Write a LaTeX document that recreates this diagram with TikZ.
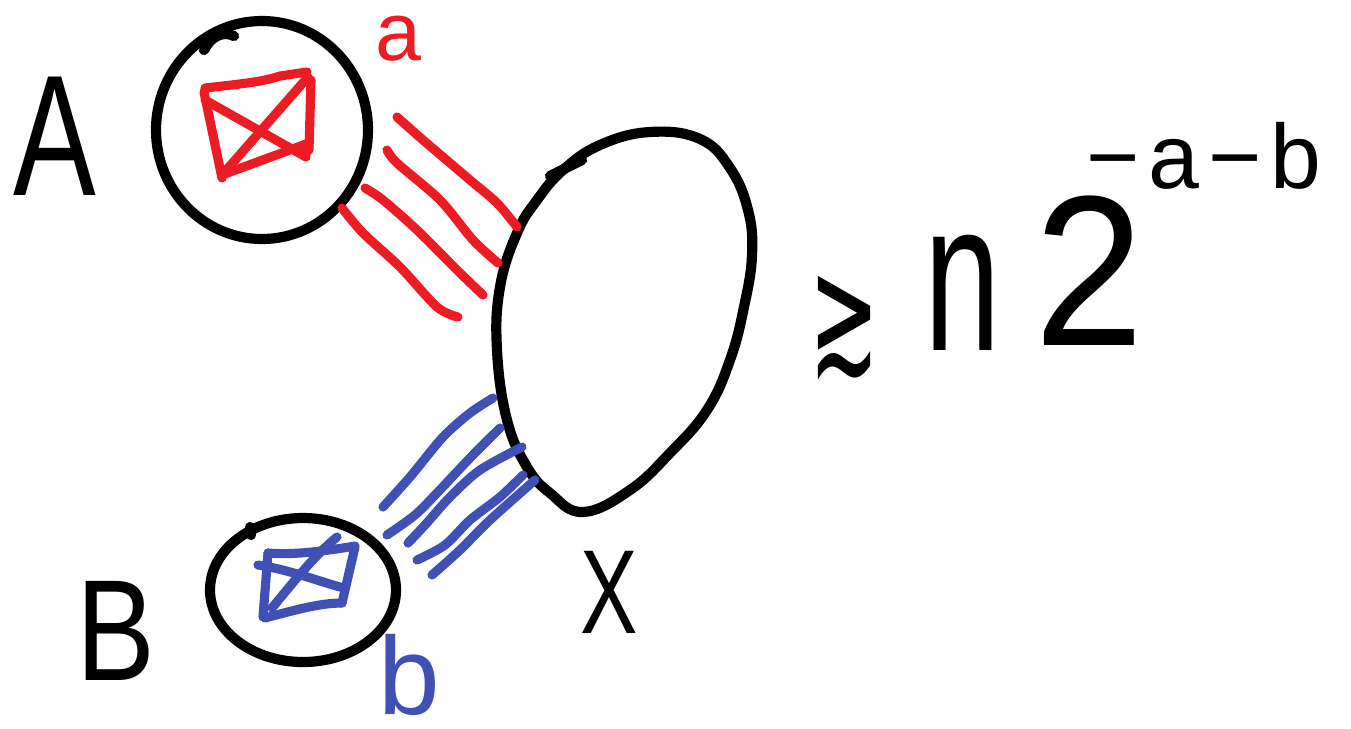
\documentclass[tikz,border=0pt]{standalone}
\usepackage{fontspec}
\setmainfont{Liberation Sans}
\newfontfamily\symfont{DejaVu Sans}
\definecolor{myred}{HTML}{ED1C24}
\definecolor{myblue}{HTML}{3F51B5}
\begin{document}
\begin{tikzpicture}[x=0.02cm,y=-0.02cm,line cap=round,line join=round,
  outline/.style={draw=black,line width=5.8pt},
  redstroke/.style={draw=myred,line width=5.2pt},
  bluestroke/.style={draw=myblue,line width=5.2pt},
  lab/.style={inner sep=0pt,anchor=base}]
\useasboundingbox (0,0) rectangle (1351,728);
% circle A
\draw[outline] (262,130) ellipse [x radius=106, y radius=109];
\draw[outline] (204,50) .. controls (210,38) and (222,30) .. (234,36);
% clique in A
\draw[redstroke] (205,88) .. controls (240,84) and (262,82) .. (280,76) -- (307,72);
\draw[redstroke] (311,80) -- (309,150);
\draw[redstroke] (204,92) -- (222,178);
\draw[redstroke] (222,175) -- (306,144) -- (307,152);
\draw[redstroke] (205,100) -- (306,157);
\draw[redstroke] (308,77) -- (222,175);
% circle B
\draw[outline] (303,590) ellipse [x radius=93, y radius=72];
\draw[outline] (250,527) -- (251,535);
% clique in B
\draw[bluestroke] (268,553) .. controls (290,555) and (320,552) .. (355,546);
\draw[bluestroke] (268,553) -- (263,617);
\draw[bluestroke] (258,565) .. controls (290,570) and (315,580) .. (340,587);
\draw[bluestroke] (272,608) .. controls (295,580) and (315,555) .. (337,537);
\draw[bluestroke] (265,618) .. controls (295,610) and (320,603) .. (342,603);
\draw[bluestroke] (355,547) -- (342,603);
% ellipse X
\draw[outline] plot[smooth cycle,tension=0.7] coordinates {
 (650,132) (700,139) (730,168) (748,210) (752,255) (744,307) (730,360) (707,410)
 (670,453) (630,490) (583,512) (550,493) (527,467) (507,420) (497,350) (500,287)
 (517,233) (537,200) (563,170) (600,145)};
\draw[outline] (550,176) -- (582,160);
% red lines
\draw[redstroke] plot[smooth] coordinates {(397,117) (423,140) (470,180) (497,203) (517,227)};
\draw[redstroke] plot[smooth] coordinates {(387,150) (397,163) (440,200) (473,240) (498,263)};
\draw[redstroke] plot[smooth] coordinates {(365,188) (383,200) (417,230) (457,270) (483,295)};
\draw[redstroke] plot[smooth] coordinates {(342,208) (363,233) (400,267) (437,307) (458,317)};
% blue lines
\draw[bluestroke] plot[smooth] coordinates {(383,507) (410,477) (443,437) (470,413) (493,398)};
\draw[bluestroke] plot[smooth] coordinates {(387,535) (415,515) (437,493) (470,458) (500,428)};
\draw[bluestroke] plot[smooth] coordinates {(408,543) (425,525) (450,497) (480,470) (522,447)};
\draw[bluestroke] plot[smooth] coordinates {(417,560) (445,545) (470,520) (500,497) (523,475)};
\draw[bluestroke] plot[smooth] coordinates {(432,575) (460,550) (490,520) (535,480)};
% labels
\node[lab,font=\fontsize{98}{98}\selectfont] (labA) at (55,195) {\scalebox{0.72}[1]{A}};
\node[lab,text=myred,font=\fontsize{47}{47}\selectfont,text height=0.56em,text depth=0pt] (laba) at (398,60) {a};
\node[lab,font=\fontsize{82}{82}\selectfont] (labB) at (116,680) {\scalebox{0.82}[1]{B}};
\node[lab,text=myblue,font=\fontsize{63}{63}\selectfont,text height=0.74em,text depth=0pt] (labb) at (409,714) {b};
\node[lab,font=\fontsize{68}{68}\selectfont] (labX) at (609,633) {\scalebox{0.72}[1]{X}};
\node[inner sep=0pt] (geq) at (844,328) {\symfont\fontsize{95}{95}\selectfont\scalebox{0.5}[1]{≳}};
\node[lab,font=\fontsize{122}{122}\selectfont] (n) at (963,350) {\scalebox{0.64}[1]{n}};
\node[lab,font=\fontsize{122}{122}\selectfont] (two) at (1089,345) {\scalebox{0.92}[1]{2}};
\node[lab,font=\fontsize{52}{52}\selectfont] (expo) at (1204,188) {−\hspace{5pt}a\hspace{5pt}−\hspace{5pt}b};
\end{tikzpicture}
\end{document}
